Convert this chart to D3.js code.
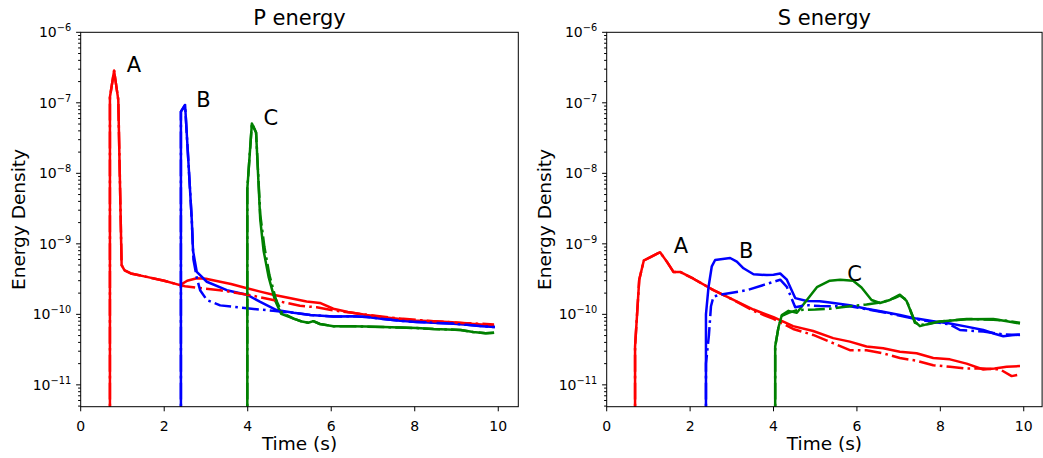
<!DOCTYPE html>
<html>
<head>
<meta charset="utf-8">
<title>P and S energy</title>
<script src="https://d3js.org/d3.v7.min.js"></script>
<style>
body {
  margin: 0;
  background: #fff;
  font-family: "DejaVu Sans", sans-serif;
}
.spine { fill: none; stroke: #000; stroke-width: 1; }
.tick line { stroke: #000; stroke-width: 1; }
.ticklab { font-size: 14px; fill: #000; }
.title { font-size: 21px; }
.label { font-size: 18.5px; }
.note { font-size: 21px; }
.curve { fill: none; stroke-width: 2.5; stroke-linejoin: round; }
</style>
</head>
<body>
<script>

// time (s), energy density
var pA = [[0.70, 1e-12], [0.70, 1.2e-7], [0.80, 2.85e-7], [0.90, 1.1e-7], [0.98, 5.0e-10], [1.05, 4.2e-10],
  [1.2, 3.8e-10], [1.58, 3.4e-10], [2.0, 3.0e-10], [2.38, 2.6e-10], [2.55, 3.0e-10], [2.78, 3.25e-10],
  [3.0, 3.2e-10], [3.34, 2.9e-10], [3.6, 2.7e-10], [3.98, 2.35e-10], [4.3, 2.1e-10], [4.61, 1.9e-10],
  [5.0, 1.7e-10], [5.41, 1.52e-10], [5.73, 1.45e-10], [6.05, 1.2e-10], [6.4, 1.08e-10], [6.85, 9.8e-11],
  [7.2, 9.2e-11], [7.65, 8.6e-11], [8.0, 8.2e-11], [8.45, 8.0e-11], [8.9, 7.7e-11], [9.25, 7.4e-11],
  [9.6, 7.2e-11], [9.9, 6.9e-11]];
var pA2 = [[0.70, 1e-12], [0.70, 1.2e-7], [0.80, 2.85e-7], [0.90, 1.1e-7], [0.98, 5.0e-10], [1.05, 4.2e-10],
  [1.2, 3.8e-10], [1.58, 3.4e-10], [2.0, 3.0e-10], [2.38, 2.6e-10], [2.5, 2.5e-10], [3.0, 2.3e-10],
  [3.34, 2.2e-10], [4.0, 1.9e-10], [4.61, 1.6e-10], [5.25, 1.32e-10], [5.65, 1.26e-10], [6.0, 1.15e-10],
  [6.5, 1.05e-10], [7.0, 9.6e-11], [7.65, 8.7e-11], [8.45, 8.0e-11], [9.25, 7.5e-11], [9.9, 7.2e-11]];
var pB = [[2.40, 1e-12], [2.40, 7.5e-8], [2.50, 9.3e-8], [2.66, 2.2e-9], [2.69, 8e-10], [2.78, 4.0e-10],
  [3.02, 2.9e-10], [3.5, 2.2e-10], [3.98, 1.9e-10], [4.3, 1.5e-10], [4.69, 1.15e-10], [5.1, 1.05e-10],
  [5.5, 9.8e-11], [6.05, 9.3e-11], [6.5, 9.4e-11], [6.85, 9.2e-11], [7.25, 8.6e-11], [7.65, 8.1e-11],
  [8.05, 7.8e-11], [8.45, 7.6e-11], [8.85, 7.4e-11], [9.25, 7.1e-11], [9.6, 6.8e-11], [9.92, 6.6e-11]];
var pB2 = [[2.40, 1e-12], [2.40, 7.5e-8], [2.50, 9.3e-8], [2.66, 2.2e-9], [2.70, 6e-10], [2.78, 3.3e-10],
  [2.86, 2.2e-10], [3.02, 1.6e-10], [3.34, 1.34e-10], [3.98, 1.22e-10], [4.61, 1.12e-10], [5.1, 1.05e-10],
  [5.5, 9.8e-11], [6.05, 9.3e-11], [6.5, 9.4e-11], [6.85, 9.2e-11], [7.25, 8.6e-11], [7.65, 8.1e-11],
  [8.05, 7.8e-11], [8.45, 7.6e-11], [8.85, 7.4e-11], [9.25, 7.1e-11], [9.6, 6.8e-11], [9.92, 6.6e-11]];
var pC = [[3.99, 1e-12], [3.99, 6e-9], [4.10, 5.1e-8], [4.20, 3.8e-8], [4.30, 2.2e-9], [4.38, 8e-10],
  [4.5, 3.4e-10], [4.65, 1.6e-10], [4.8, 1.02e-10], [5.1, 8.7e-11], [5.3, 7.9e-11], [5.45, 7.6e-11],
  [5.57, 8.0e-11], [5.73, 7.3e-11], [6.05, 6.8e-11], [6.45, 6.8e-11], [6.85, 6.7e-11], [7.25, 6.6e-11],
  [7.65, 6.5e-11], [8.05, 6.4e-11], [8.45, 6.2e-11], [8.8, 6.1e-11], [9.1, 6.0e-11], [9.4, 5.6e-11],
  [9.7, 5.4e-11], [9.9, 5.5e-11]];
var pC2 = [[3.99, 1e-12], [3.99, 6e-9], [4.10, 5.1e-8], [4.20, 3.8e-8], [4.30, 2.6e-9], [4.40, 9e-10],
  [4.52, 3.6e-10], [4.68, 1.6e-10], [4.82, 1.05e-10], [5.1, 8.7e-11], [5.3, 7.9e-11], [5.45, 7.6e-11],
  [5.57, 8.0e-11], [5.73, 7.3e-11], [6.05, 6.8e-11], [6.45, 6.8e-11], [6.85, 6.7e-11], [7.25, 6.6e-11],
  [7.65, 6.5e-11], [8.05, 6.4e-11], [8.45, 6.2e-11], [8.8, 6.1e-11], [9.1, 6.0e-11], [9.4, 5.6e-11],
  [9.7, 5.4e-11], [9.9, 5.5e-11]];

var sA = [[0.68, 1e-12], [0.68, 3.5e-11], [0.78, 3.1e-10], [0.89, 5.8e-10], [1.05, 6.5e-10], [1.28, 7.6e-10],
  [1.45, 5.5e-10], [1.60, 4.0e-10], [1.76, 4.0e-10], [2.08, 3.2e-10], [2.56, 2.2e-10], [3.04, 1.6e-10],
  [3.52, 1.17e-10], [4.0, 9.1e-11], [4.47, 6.8e-11], [4.95, 5.8e-11], [5.43, 4.6e-11], [5.83, 4.1e-11],
  [6.23, 3.5e-11], [6.63, 3.3e-11], [7.03, 2.95e-11], [7.43, 2.8e-11], [7.83, 2.4e-11], [8.23, 2.3e-11],
  [8.63, 2.0e-11], [9.03, 1.65e-11], [9.3, 1.7e-11], [9.59, 1.8e-11], [9.91, 1.85e-11]];
var sA2 = [[0.68, 1e-12], [0.68, 3.5e-11], [0.78, 3.1e-10], [0.89, 5.8e-10], [1.05, 6.5e-10], [1.28, 7.6e-10],
  [1.45, 5.5e-10], [1.60, 4.0e-10], [1.76, 4.0e-10], [2.08, 3.2e-10], [2.56, 2.2e-10], [3.04, 1.6e-10],
  [3.52, 1.12e-10], [4.0, 8.6e-11], [4.47, 6.2e-11], [4.95, 5.1e-11], [5.43, 3.9e-11], [5.83, 3.1e-11],
  [6.23, 3.1e-11], [6.63, 2.8e-11], [7.03, 2.4e-11], [7.43, 2.2e-11], [7.83, 1.9e-11], [8.23, 1.8e-11],
  [8.63, 1.7e-11], [9.03, 1.7e-11], [9.43, 1.66e-11], [9.71, 1.33e-11], [9.91, 1.4e-11]];
var sB = [[2.38, 1e-12], [2.38, 1.0e-10], [2.44, 2.4e-10], [2.52, 4.8e-10], [2.60, 5.9e-10], [2.96, 6.3e-10],
  [3.12, 5.6e-10], [3.28, 4.5e-10], [3.52, 3.7e-10], [3.84, 3.6e-10], [4.0, 3.65e-10], [4.16, 3.8e-10],
  [4.32, 3.1e-10], [4.52, 1.7e-10], [4.8, 1.55e-10], [5.11, 1.53e-10], [5.35, 1.47e-10], [5.83, 1.35e-10],
  [6.23, 1.2e-10], [6.63, 1.09e-10], [7.03, 9.8e-11], [7.43, 8.7e-11], [7.83, 8.0e-11], [8.23, 7.4e-11],
  [8.63, 6.7e-11], [9.03, 6.0e-11], [9.3, 5.3e-11], [9.51, 4.9e-11], [9.91, 5.2e-11]];
var sB2 = [[2.38, 1e-12], [2.38, 2e-11], [2.45, 5e-11], [2.50, 1.3e-10], [2.56, 1.78e-10], [2.72, 1.9e-10],
  [3.36, 2.2e-10], [3.84, 2.7e-10], [4.16, 3.1e-10], [4.32, 2.45e-10], [4.52, 1.26e-10], [4.8, 1.35e-10],
  [5.11, 1.31e-10], [5.83, 1.3e-10], [6.63, 1.07e-10], [7.43, 8.5e-11], [8.23, 7.2e-11], [8.47, 6.0e-11],
  [9.03, 5.7e-11], [9.51, 5.2e-11], [9.91, 5.1e-11]];
var sC = [[4.04, 1e-12], [4.04, 3.5e-11], [4.12, 6.6e-11], [4.2, 9.8e-11], [4.36, 1.12e-10], [4.56, 1.05e-10],
  [4.8, 1.6e-10], [5.04, 2.43e-10], [5.35, 3.0e-10], [5.6, 3.1e-10], [5.91, 3.0e-10], [6.11, 2.4e-10],
  [6.35, 1.6e-10], [6.55, 1.45e-10], [6.79, 1.6e-10], [7.03, 1.9e-10], [7.19, 1.55e-10], [7.39, 7.9e-11],
  [7.51, 6.8e-11], [7.67, 7.2e-11], [7.99, 7.9e-11], [8.63, 8.5e-11], [9.27, 8.6e-11], [9.6, 8.0e-11],
  [9.91, 7.4e-11]];
var sC2 = [[4.04, 1e-12], [4.04, 3.5e-11], [4.12, 6.6e-11], [4.2, 9.5e-11], [4.36, 1.05e-10], [4.56, 1.15e-10],
  [5.0, 1.17e-10], [5.35, 1.2e-10], [5.83, 1.3e-10], [6.23, 1.38e-10], [6.63, 1.5e-10], [6.9, 1.7e-10],
  [7.03, 1.85e-10], [7.19, 1.6e-10], [7.39, 7.6e-11], [7.55, 7.1e-11], [7.99, 7.9e-11], [8.63, 8.6e-11],
  [9.27, 8.4e-11], [9.6, 8.1e-11], [9.91, 7.6e-11]];

var noteText = ["A", "B", "C"];
var pNotes = [[1.10, 2.76e-7], [2.77, 8.6e-8], [4.38, 4.8e-8]];
var sNotes = [[1.61, 7.3e-10], [3.17, 6.2e-10], [5.77, 3.0e-10]];

var xTicks = [0, 2, 4, 6, 8, 10];
var yPowers = [-11, -10, -9, -8, -7, -6];
var colors = ["#ff0000", "#0000ff", "#008000"];

var width = 1043, height = 458,
    plotTop = 32.3, plotBottom = 406.7,
    dashDot = "16.9,4.2,2.6,4.2";

var panels = [
  {title: "P energy", left: 80.7, w: 437.6, xmax: 10.48, solid: [pA, pB, pC], dashed: [pA2, pB2, pC2], notes: pNotes},
  {title: "S energy", left: 606.7, w: 435.4, xmax: 10.44, solid: [sA, sB, sC], dashed: [sA2, sB2, sC2], notes: sNotes}
];

var svg = d3.select("body").append("svg")
    .attr("width", width)
    .attr("height", height);

panels.forEach(function(p, k) {

  var x = d3.scaleLinear().domain([0, p.xmax]).range([p.left, p.left + p.w]);
  var y = d3.scaleLog().domain([4.9e-12, 1e-6]).range([plotBottom, plotTop]);

  var g = svg.append("g");

  svg.append("clipPath").attr("id", "clip" + k)
    .append("rect")
      .attr("x", p.left).attr("y", plotTop)
      .attr("width", p.w).attr("height", plotBottom - plotTop);

  var line = d3.line()
      .x(function(d) { return x(d[0]); })
      .y(function(d) { return y(d[1]); });

  var plot = g.append("g").attr("clip-path", "url(#clip" + k + ")");

  p.solid.forEach(function(s, i) {
    plot.append("path").attr("class", "curve")
      .attr("d", line(s)).attr("stroke", colors[i]);
  });
  p.dashed.forEach(function(s, i) {
    plot.append("path").attr("class", "curve")
      .attr("d", line(s)).attr("stroke", colors[i])
      .attr("stroke-dasharray", dashDot);
  });

  // x axis
  var xa = g.selectAll(".xt").data(xTicks).enter().append("g")
      .attr("class", "tick")
      .attr("transform", function(d) { return "translate(" + x(d) + "," + plotBottom + ")"; });
  xa.append("line").attr("y2", 4.6);
  xa.append("text").attr("class", "ticklab")
      .attr("y", 24).attr("text-anchor", "middle")
      .text(function(d) { return d; });

  // y axis, decades + minor ticks
  var minor = [];
  yPowers.concat([-12]).forEach(function(e) {
    for (var m = 2; m <= 9; m++) {
      var v = m * Math.pow(10, e);
      if (v >= 4.9e-12 && v <= 1e-6) minor.push(v);
    }
  });
  g.selectAll(".ym").data(minor).enter().append("line")
      .attr("stroke", "#000")
      .attr("x1", p.left - 2.6).attr("x2", p.left)
      .attr("y1", function(d) { return y(d); })
      .attr("y2", function(d) { return y(d); });

  var ya = g.selectAll(".yt").data(yPowers).enter().append("g")
      .attr("class", "tick")
      .attr("transform", function(d) { return "translate(" + p.left + "," + y(Math.pow(10, d)) + ")"; });
  ya.append("line").attr("x2", -4.6);
  var lab = ya.append("text").attr("class", "ticklab")
      .attr("x", -9.5).attr("y", 5).attr("text-anchor", "end");
  lab.append("tspan").text("10");
  lab.append("tspan").attr("dy", -6).style("font-size", "9.8px")
      .text(function(d) { return "\u2212" + (-d); });

  g.append("rect").attr("class", "spine")
      .attr("x", p.left).attr("y", plotTop)
      .attr("width", p.w).attr("height", plotBottom - plotTop);

  g.append("text").attr("class", "title")
      .attr("x", p.left + p.w / 2).attr("y", 24.5)
      .attr("text-anchor", "middle").text(p.title);

  g.append("text").attr("class", "label")
      .attr("x", p.left + p.w / 2).attr("y", 450)
      .attr("text-anchor", "middle").text("Time (s)");

  g.append("text").attr("class", "label")
      .attr("transform", "translate(" + (p.left - 55.7) + "," + (plotTop + plotBottom) / 2 + ")rotate(-90)")
      .attr("text-anchor", "middle").text("Energy Density");

  g.selectAll(".note").data(p.notes).enter().append("text")
      .attr("class", "note")
      .attr("x", function(d) { return x(d[0]); })
      .attr("y", function(d) { return y(d[1]); })
      .text(function(d, i) { return noteText[i]; });
});

</script>
</body>
</html>
